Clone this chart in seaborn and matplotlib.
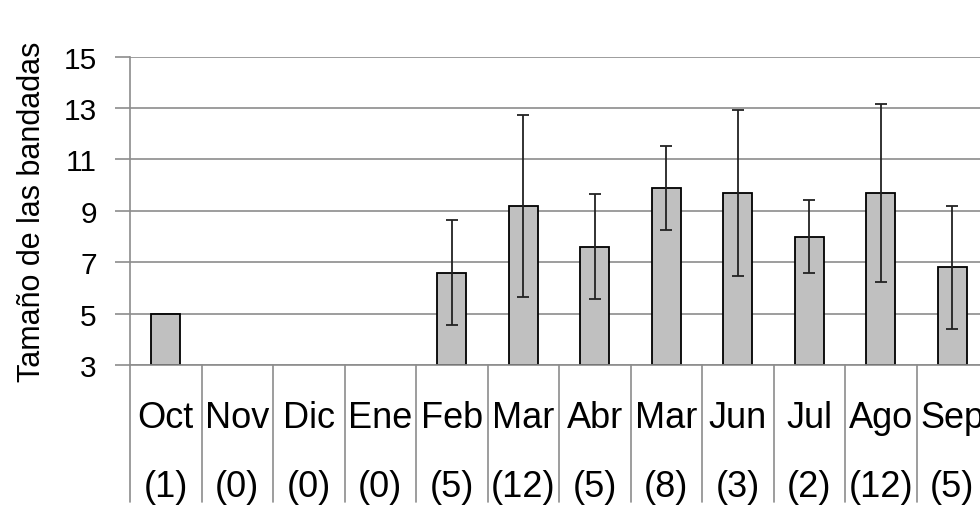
import matplotlib
matplotlib.use("Agg")
import matplotlib.pyplot as plt
import seaborn as sns
import numpy as np
import pandas as pd

months = ["Oct", "Nov", "Dic", "Ene", "Feb", "Mar", "Abr", "Mar", "Jun", "Jul", "Ago", "Sep"]
counts = ["(1)", "(0)", "(0)", "(0)", "(5)", "(12)", "(5)", "(8)", "(3)", "(2)", "(12)", "(5)"]
means = [5.0, np.nan, np.nan, np.nan, 6.6, 9.2, 7.6, 9.9, 9.7, 8.0, 9.7, 6.8]
errors = [0.0, np.nan, np.nan, np.nan, 2.05, 3.55, 2.05, 1.63, 3.23, 1.43, 3.46, 2.4]
yticks = [3, 5, 7, 9, 11, 13, 15]

sns.set_theme(style="white")
plt.rcParams['font.family'] = ['Liberation Sans', 'DejaVu Sans']

fig = plt.figure(figsize=(9.8, 5.06), dpi=100)
W, H = 980, 506
left, right, top, bottom = 130, 988, 57.7, 366
ax = fig.add_axes([left / W, 1 - bottom / H, (right - left) / W, (bottom - top) / H])

df = pd.DataFrame({"pos": [str(i) for i in range(len(months))], "mean": means})
bar_base = 3
sns.barplot(data=df, x="pos", y=np.array(means) - bar_base, bottom=bar_base, ax=ax,
            color="#c0c0c0", edgecolor="black", linewidth=1.3, width=0.4, saturation=1)

x = np.arange(len(months))
err_mask = ~np.isnan(errors) & (np.nan_to_num(errors) > 0)
ax.errorbar(x[err_mask], np.array(means)[err_mask], yerr=np.array(errors)[err_mask],
            fmt="none", ecolor="#222222", elinewidth=1.3, capsize=4, capthick=1.3, zorder=5)

ax.set_xlim(-0.5, len(months) - 0.5)
ax.set_ylim(3, 15)
ax.set_yticks(yticks)
ax.set_yticklabels([str(t) for t in yticks], fontsize=21.5, color="black")
ax.yaxis.grid(True, color="#8c8c8c", linewidth=1.2)
ax.set_axisbelow(True)
ax.tick_params(axis="y", left=True, length=11, width=1.2, color="#8c8c8c", pad=13)
ax.set_xticks([])
ax.set_xlabel("")
ax.set_ylabel("Tamaño de las bandadas", fontsize=22, color="black", labelpad=12)
for s in ["top", "right"]:
    ax.spines[s].set_visible(False)
ax.spines["left"].set_color("#8c8c8c")
ax.spines["left"].set_linewidth(1.2)
ax.spines["bottom"].set_color("#8c8c8c")
ax.spines["bottom"].set_linewidth(1.2)

# category table below
trans = ax.get_xaxis_transform()
axh = bottom - top
y_end = -(503 - bottom) / axh
for b in np.arange(-0.5, len(months) + 0.5, 1.0):
    ax.plot([b, b], [0, y_end], transform=trans, color="#8c8c8c", linewidth=1.2, clip_on=False)
y_m = -(418 - bottom) / axh
y_c = -(488 - bottom) / axh
for i, (m, c) in enumerate(zip(months, counts)):
    ax.text(i, y_m, m, transform=trans, ha="center", va="center", fontsize=26, color="black")
    ax.text(i, y_c, c, transform=trans, ha="center", va="center", fontsize=26, color="black")

fig.savefig("out.png", dpi=100)
